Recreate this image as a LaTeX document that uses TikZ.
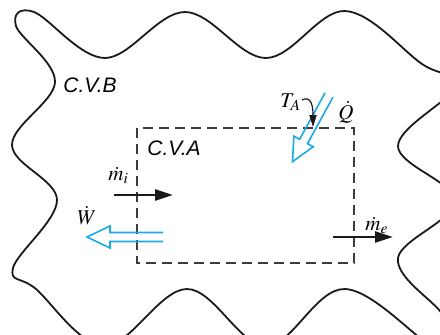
\documentclass[tikz,border=0pt]{standalone}
\usepackage{mathptmx}
\usepackage{fontspec}
\usetikzlibrary{arrows.meta}
\newfontfamily\cvfont{Liberation Sans}
\definecolor{ink}{HTML}{1A1A1A}
\definecolor{heat}{HTML}{1BA9E6}
\tikzset{boundary/.style={line width=.9pt,draw=ink},
  cvline/.style={line width=.65pt,draw=ink!85,dash pattern=on 5pt off 3pt},
  cvlabel/.style={font=\cvfont\itshape\fontsize{10.5}{12}\selectfont,anchor=base west,inner sep=0pt},
  sym/.style={anchor=base west,inner sep=0pt,font=\fontsize{10.5}{12}\selectfont},
  massflow/.style={line width=1.3pt,draw=ink,-{Triangle[length=9pt,width=5.5pt]}},
  hollow/.style={line width=.8pt,draw=heat,line join=miter}}
\newcommand{\hollowarrow}[2]{%
\begin{scope}[shift={(#1)},rotate=#2]
 \draw[hollow] (0,4.5)--(53,4.5)--(53,11)--(76,0)--(53,-11)--(53,-4.5)--(0,-4.5);
\end{scope}}

\begin{document}
\begin{tikzpicture}[x=.5pt,y=-.5pt]
\useasboundingbox (0,0) rectangle (440,334);
\clip (0,0) rectangle (440,334);
% control volume B (wavy)
\draw[boundary] plot[smooth cycle,tension=.6] coordinates {
 (16,26) (34,12) (105,58) (185,12) (266,58) (345,11) (422,64) (456,86)
 (398,146) (455,201) (398,258) (440,311) (463,338) (440,352)
 (345,289) (266,346) (187,289) (105,346) (36,289) (13,268)
 (57,200) (12,145) (55,82)};
% control volume A
\draw[cvline] (137,128) rectangle (354,263);
\node[cvlabel] (cvb) at (63,92) {C.V.B};
\node[cvlabel] (cva) at (147,155) {C.V.A};
% mass flows
\coordinate (mi-s) at (114,195);
\coordinate (mi-t) at (173,195);
\draw[massflow] (mi-s) -- (mi-t);
\node[sym] (mi) at (108,180) {$\dot m_i$};
\coordinate (me-s) at (333,237);
\coordinate (me-t) at (393,237);
\draw[massflow] (me-s) -- (me-t);
\node[sym] (me) at (365,230) {$\dot m_e$};
% work and heat
\coordinate (w-s) at (163,237);
\hollowarrow{w-s}{180}
\node[sym] (w) at (77,224) {$\dot W$};
\coordinate (q-s) at (329,95);
\hollowarrow{q-s}{241.3}
\node[sym] (q) at (338,119) {$\dot Q$};
\node[sym] (ta) at (280,107) {$T_A$};
\coordinate (ta-s) at (302,100);
\coordinate (ta-t) at (313,127);
\draw[line width=.6pt,draw=ink,-{Triangle[length=6pt,width=3.6pt]}]
 (ta-s) .. controls (310,96) and (313,103) .. (ta-t);
\end{tikzpicture}
\end{document}
